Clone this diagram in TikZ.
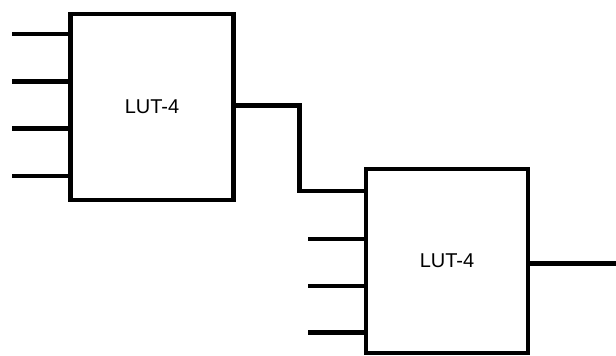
\documentclass[tikz,border=0pt]{standalone}
\usepackage{fontspec}
\setmainfont{Liberation Sans}
\begin{document}
\begin{tikzpicture}[x=1pt,y=-1pt,
  lut/.style={draw=black, line width=4.5pt, fill=white, minimum width=163pt, minimum height=186pt, inner sep=0pt, font=\fontsize{20}{24}\selectfont},
  wire/.style={draw=black, line width=4.5pt}]
\useasboundingbox (0,0) rectangle (616,356);
\node[lut] (b1) at (152,107) {LUT-4};
\node[lut, minimum width=162pt, minimum height=184pt] (b2) at (447,261) {LUT-4};
\foreach \y [count=\i] in {34,81.5,128.5,176}
  { \coordinate (a\i) at (12,\y); \draw[wire] (a\i) -- (a\i -| b1.west); }
\foreach \y [count=\i] in {239,286,332.5}
  { \coordinate (c\i) at (308,\y); \draw[wire] (c\i) -- (c\i -| b2.west); }
\coordinate (j) at (299.5,191);
\draw[wire] (b1.east |- 0,105.5) -| (j) -- (j -| b2.west);
\coordinate (o) at (616,263.5);
\draw[wire] (o -| b2.east) -- (o);
\end{tikzpicture}
\end{document}
